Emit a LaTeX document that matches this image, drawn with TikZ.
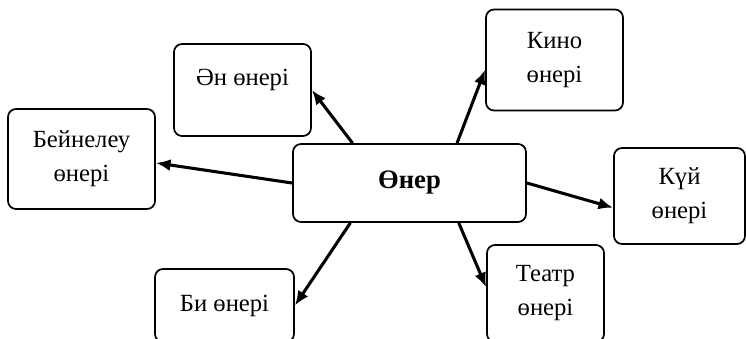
\documentclass[tikz,border=0pt]{standalone}
\usepackage{fontspec}
\setmainfont{Liberation Serif}
\usepackage{tikz}
\usetikzlibrary{arrows.meta}

\begin{document}
\begin{tikzpicture}[x=0.75pt, y=-0.75pt,
  box/.style={draw, line width=1.3pt, rounded corners=6pt, align=center,
    font=\fontsize{18.5}{25.5}\selectfont},
  arr/.style={line width=2.3pt, -{Latex[length=11pt,width=9pt]}}]
%%%%% Frame %%%%%
\useasboundingbox (0,0) rectangle (746,339);
%%%%% Boxes %%%%%
\node[box, minimum width=174.75pt, minimum height=58.5pt, font=\fontsize{20}{25.5}\selectfont\bfseries] (oner) at (409.5,183) {Өнер};
\node[box, minimum width=102.75pt, minimum height=69pt] (an) at (242.5,90) {Ән өнері\\[-6pt]~};
\node[box, minimum width=110.25pt, minimum height=75pt] (beinel) at (81.5,159) {Бейнелеу\\өнері};
\node[box, minimum width=102.75pt, minimum height=75.75pt] (kino) at (554.5,60) {Кино\\өнері};
\node[box, minimum width=98.25pt, minimum height=72pt] (kui) at (679.5,196) {Күй\\өнері};
\node[box, minimum width=87.75pt, minimum height=72.75pt] (teatr) at (545.5,293.5) {Театр\\өнері};
\node[box, minimum width=104.25pt, minimum height=54.75pt] (bi) at (224.5,305.5) {Би өнері};
%%%%% Arrows %%%%%
\draw[arr] (oner.145) -- (an.east);
\draw[arr] (oner.west) -- (beinel.-3);
\draw[arr] (oner.40) -- (kino.188);
\draw[arr] (oner.east) -- (kui.190);
\draw[arr] (oner.-39) -- (teatr.174);
\draw[arr] (oner.214) -- (bi.east);
\end{tikzpicture}
\end{document}
